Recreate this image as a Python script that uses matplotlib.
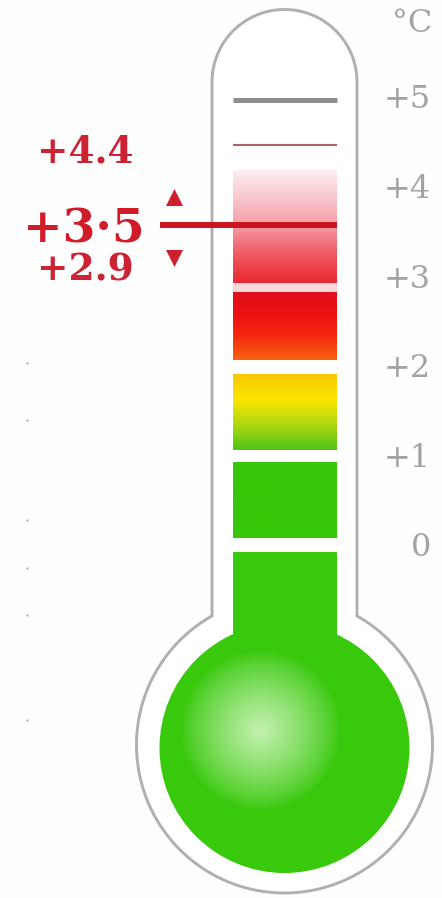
import numpy as np
import matplotlib.pyplot as plt
from matplotlib.colors import LinearSegmentedColormap, to_rgb
from matplotlib.patches import Polygon, Ellipse, Rectangle

# scale on the right, in degrees C
tick_values = [0, 1, 2, 3, 4, 5]
tick_labels = ['0', '+1', '+2', '+3', '+4', '+5']
unit_label = '°C'

# readings on the left
reading_labels = ['+4.4', '+3·5', '+2.9']
reading_y = [4.42, 3.55, 3.10]
marker_level = 3.6     # thick red line
upper_level = 4.5      # thin line
top_level = 5.0        # gray line

# coloured bands of the column (bottom, top) in degrees, colours bottom -> top
band_bottoms = [2.96, 2.10, 1.09, 0.11]
band_tops = [4.22, 2.86, 1.93, 0.95]
band_colors = [
    ['#ea2832', '#ee5860', '#f49aa4', '#f8c6ce', '#fdeef1'],
    ['#f86412', '#f42a10', '#ee1012', '#dc101c'],
    ['#4cc418', '#b0d812', '#fce600', '#f8c800'],
    ['#36c80a', '#36c80a'],
]
gap_pink = (2.86, 2.96)
column_top = -0.05

# faint dots left of the labels
dot_y = [2.07, 1.43, 0.31, -0.22, -0.75, -1.92]

W, H = 442, 898
PX = 89.6      # pixels per degree
ZERO = 548     # pixel row of 0 degrees


def deg(py):
    return (ZERO - np.asarray(py, dtype=float)) / PX


GREEN = '#38c80c'
RED = '#cc2233'
GRAY_TXT = '#a3a3a3'

fig = plt.figure(figsize=(W / 100, H / 100), dpi=100)
fig.patch.set_facecolor('#fefefe')
ax = fig.add_axes([0, 0, 1, 1])
ax.set_xlim(0, W)
ax.set_ylim(deg(H), deg(0))
ax.axis('off')

# glass outline: tube with round top + bulb
cx = 284.5
half = 72.5
top_c = 82
bulb_c, bulb_r = 745, 148
dy = np.sqrt(bulb_r ** 2 - half ** 2)
join = bulb_c - dy
t_top = np.linspace(np.pi, 2 * np.pi, 80)
a0 = np.arctan2(-dy, half)
a1 = np.arctan2(-dy, -half) + 2 * np.pi
t_bulb = np.linspace(a0, a1, 200)
xs = np.concatenate([[cx - half], cx + half * np.cos(t_top), [cx + half],
                     cx + bulb_r * np.cos(t_bulb)])
ys = np.concatenate([[join], top_c + half * np.sin(t_top), [join],
                     bulb_c + bulb_r * np.sin(t_bulb)])
glass = Polygon(np.column_stack([xs, deg(ys)]), closed=True,
                facecolor='white', edgecolor='#b2aeb2', lw=2.1, zorder=1)
ax.add_patch(glass)

# column
col_l, col_r = 233, 337
for lo, hi, cols in zip(band_bottoms, band_tops, band_colors):
    cmap = LinearSegmentedColormap.from_list('band', cols)
    grad = np.linspace(0, 1, 256).reshape(-1, 1)
    ax.imshow(grad, cmap=cmap, extent=[col_l, col_r, lo, hi],
              origin='lower', aspect='auto', zorder=2, interpolation='bilinear')
ax.add_patch(Rectangle((col_l, gap_pink[0]), col_r - col_l,
                       gap_pink[1] - gap_pink[0], color='#fbd6d6', zorder=2, lw=0))

# green stem and bulb
stem_bot = deg(700)
ax.add_patch(Rectangle((col_l, stem_bot), col_r - col_l, column_top - stem_bot,
                       color=GREEN, lw=0, zorder=2))
gb_c, gb_r = 748, 125
bulb = Ellipse((cx, deg(gb_c)), 2 * gb_r, 2 * gb_r / PX, color=GREEN, lw=0, zorder=2)
ax.add_patch(bulb)

# soft highlight in the bulb
gx = np.linspace(cx - gb_r, cx + gb_r, 300)
gy = np.linspace(gb_c - gb_r, gb_c + gb_r, 300)
GX, GY = np.meshgrid(gx, gy)
d = np.hypot(GX - 260, GY - 730) / 80
alpha = np.clip(1 - d, 0, 1) ** 0.8 * 0.88
img = np.zeros(GX.shape + (4,))
img[..., :3] = to_rgb('#d8f7c8')
img[..., 3] = alpha
hl = ax.imshow(img, extent=[gx[0], gx[-1], deg(gy[-1]), deg(gy[0])],
               aspect='auto', zorder=3, interpolation='bilinear')
hl.set_clip_path(bulb)

# level lines
ax.plot([col_l, col_r], [top_level, top_level], color='#8e8e8e', lw=3.6,
        solid_capstyle='butt', zorder=4)
ax.plot([col_l, col_r], [upper_level, upper_level], color='#a86468', lw=1.5,
        solid_capstyle='butt', zorder=4)
ax.plot([160, col_r], [marker_level, marker_level], color='#cc1420', lw=4.3,
        solid_capstyle='butt', zorder=4)
ax.scatter([174], [marker_level + 0.32], marker='^', s=150, color='#d0202e',
           lw=0, zorder=4)
ax.scatter([174], [marker_level - 0.36], marker='v', s=150, color='#d0202e',
           lw=0, zorder=4)

# right scale
for v, lab in zip(tick_values, tick_labels):
    ax.text(431, v, lab, ha='right', va='center', color=GRAY_TXT,
            fontsize=23, family='DejaVu Serif')
ax.text(432, deg(24), unit_label, ha='right', va='center', color=GRAY_TXT,
        fontsize=23, family='DejaVu Serif')

# left readings
ax.text(85, reading_y[0], reading_labels[0], ha='center', va='center',
        color=RED, fontsize=27, fontweight='bold', family='DejaVu Serif')
ax.text(84, reading_y[1], reading_labels[1], ha='center', va='center',
        color='#d01c28', fontsize=34, fontweight='bold', family='DejaVu Serif')
ax.text(85, reading_y[2], reading_labels[2], ha='center', va='center',
        color=RED, fontsize=27, fontweight='bold', family='DejaVu Serif')

ax.scatter([27] * len(dot_y), dot_y, s=3, color='#b0b0b0', lw=0, zorder=4)

fig.savefig('out.png', dpi=100, facecolor=fig.get_facecolor())
